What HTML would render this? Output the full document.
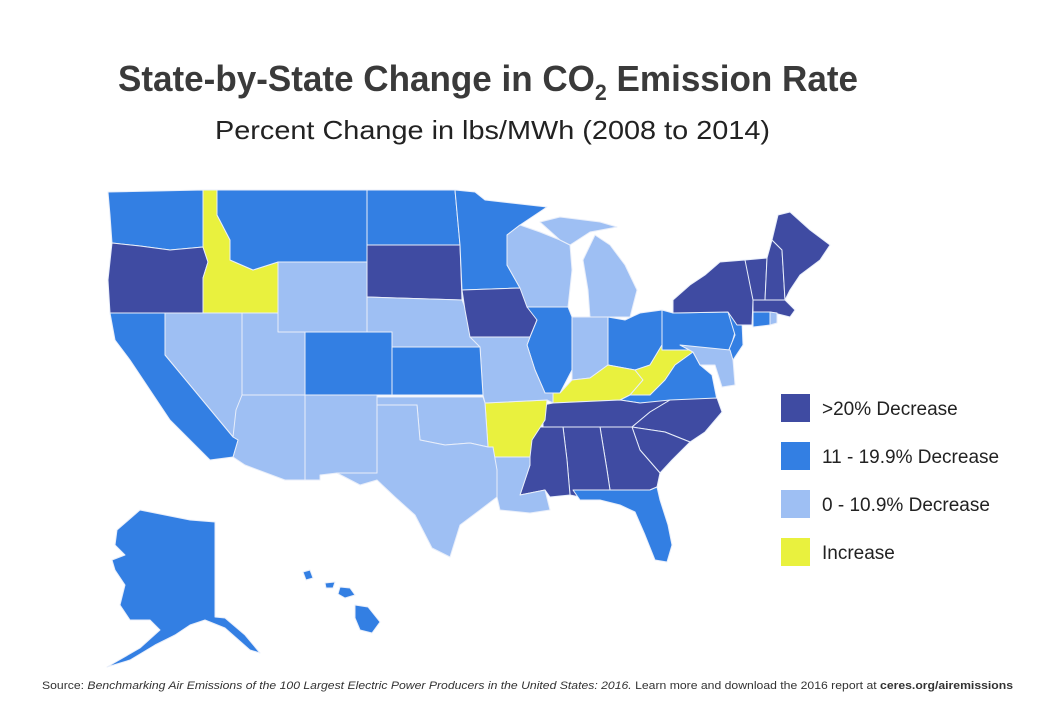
<!DOCTYPE html>
<html><head><meta charset="utf-8"><style>
html,body{margin:0;padding:0;background:#fff;}
svg{display:block;}
</style></head><body>
<svg id="chart" width="1050" height="719" viewBox="0 0 1050 719" xmlns="http://www.w3.org/2000/svg" font-family="'Liberation Sans', sans-serif">
<rect width="1050" height="719" fill="#fff"/>
<text x="118" y="91" font-size="36" font-weight="bold" fill="#3a3a3a" textLength="740" lengthAdjust="spacingAndGlyphs">State-by-State Change in CO<tspan font-size="22" dy="9">2</tspan><tspan dy="-9"> Emission Rate</tspan></text>
<text x="215" y="139" font-size="26" fill="#222" textLength="555" lengthAdjust="spacingAndGlyphs">Percent Change in lbs/MWh (2008 to 2014)</text>
<g id="map"></g>
<g id="legend"></g>
<text x="42" y="689" font-size="11" fill="#333" textLength="971" lengthAdjust="spacingAndGlyphs">Source: <tspan font-style="italic">Benchmarking Air Emissions of the 100 Largest Electric Power Producers in the United States: 2016.</tspan> Learn more and download the 2016 report at <tspan font-weight="bold">ceres.org/airemissions</tspan></text>
</svg>
<script>
// Data: category per state (0 = >20% decrease, 1 = 11-19.9%, 2 = 0-10.9%, 3 = increase)
const categoryLabels = [">20% Decrease", "11 - 19.9% Decrease", "0 - 10.9% Decrease", "Increase"];
const categoryColors = ["#3f4ba2", "#337fe3", "#9ebff3", "#e9f13e"];
const stateNames = ["WA","OR","ID","MT","WY","ND","SD","NE","MN","IA","WI","MI-UP","MI","IL","IN","OH","KY","WV","VA","PA","NJ","MD","NY","VT","NH","ME","MA","CT","RI","TN","NC","SC","GA","AL","MS","FL","LA","AR","MO","KS","OK","TX","NM","AZ","CO","UT","NV","CA","AK","HI1","HI2","HI3","HI4"];
const stateCategory = [1,0,3,1,2,1,0,2,1,0,2,2,2,1,2,1,3,3,1,1,1,2,0,0,0,0,0,1,2,0,0,0,0,0,0,1,2,3,2,1,2,2,2,2,1,2,2,1,1,1,1,1,1];

// Geometry (outline shapes)
const shapes = {
WA:"108,192 203,190 203,247 170,250 140,246 112,243 110,215",
OR:"112,243 140,246 170,250 203,247 208,262 203,278 203,313 110,313 108,280",
ID:"203,190 217,190 217,215 230,240 230,260 253,270 278,262 278,313 203,313 203,278 208,262 203,247",
MT:"217,190 367,190 367,262 278,262 253,270 230,260 230,240 217,215",
WY:"278,262 367,262 367,332 278,332",
ND:"367,190 455,190 460,245 367,245",
SD:"367,245 460,245 462,300 367,297",
NE:"367,297 462,300 470,320 480,347 392,347 392,332 367,332",
MN:"455,190 475,192 485,200 547,207 520,225 507,235 507,265 520,288 462,290 460,245",
IA:"462,290 520,288 532,300 537,320 530,337 470,337 465,310",
WI:"507,235 520,225 540,232 560,240 570,245 572,270 568,307 527,307 520,288 507,265",
"MI-UP":"540,222 560,217 600,222 617,227 590,232 570,245 560,240",
MI:"583,260 595,235 610,245 625,265 637,290 630,317 590,317 588,290",
IL:"527,307 568,307 572,317 572,370 560,393 545,393 535,370 527,345 530,337 537,320",
IN:"572,317 608,317 608,365 590,378 572,380 572,370",
OH:"608,317 625,320 640,313 662,310 662,345 650,365 635,370 608,365",
KY:"553,393 560,393 572,380 590,378 608,365 635,370 643,380 630,395 620,400 553,403",
WV:"643,380 635,370 650,365 662,345 662,350 680,345 693,352 675,365 665,380 650,395 630,395",
VA:"630,395 650,395 665,380 675,365 693,352 700,365 712,375 717,400 640,403 620,400",
PA:"662,310 673,313 728,312 737,325 730,350 662,350",
NJ:"728,312 742,322 743,345 733,360 728,352 735,335",
MD:"680,345 730,350 733,360 735,385 722,387 715,365 700,365 693,352",
NY:"673,313 673,300 690,285 705,275 720,262 745,260 752,262 753,300 752,325 737,325 728,312",
VT:"745,260 767,258 765,300 753,300",
NH:"767,258 772,240 782,250 785,300 765,300",
ME:"772,240 778,215 790,212 810,230 830,245 820,260 800,275 790,290 785,300 782,250",
MA:"753,300 785,300 795,310 790,317 770,312 753,312",
CT:"753,312 770,312 770,325 753,327",
RI:"770,312 777,313 777,323 770,325",
TN:"543,405 553,403 620,400 640,403 670,400 650,412 632,427 543,427",
NC:"670,400 717,398 722,412 705,432 690,442 665,432 632,427 650,412",
SC:"632,427 665,432 690,442 672,460 660,473 640,450",
GA:"600,427 632,427 640,450 660,473 657,487 650,490 610,490 607,470",
AL:"563,427 600,427 607,470 610,490 585,490 580,497 570,495 567,460",
MS:"523,427 563,427 567,460 570,495 550,497 545,490 520,495 530,465 525,450",
FL:"573,490 610,490 650,490 657,487 660,500 668,525 672,545 667,562 655,560 645,535 635,512 620,505 600,500 580,500",
LA:"493,457 530,457 530,465 520,495 545,490 550,510 530,513 500,510 497,497 497,470",
AR:"485,403 547,400 545,420 532,440 530,457 493,457 493,447 488,447",
MO:"470,337 530,337 527,345 535,370 545,393 553,393 553,403 547,400 485,403 483,395 480,347",
KS:"392,347 480,347 483,395 392,395",
OK:"377,397 483,397 485,403 488,447 470,443 445,445 420,440 417,405 377,405",
TX:"377,405 417,405 420,440 445,445 470,443 488,447 493,447 497,470 497,497 480,510 460,525 450,557 432,548 415,515 395,497 377,480 360,485 337,473 377,473",
NM:"305,395 377,395 377,473 337,473 320,475 320,480 305,480",
AZ:"233,395 305,395 305,480 285,480 245,465 233,457 238,440 233,437",
CO:"305,332 392,332 392,395 305,395",
UT:"242,313 278,313 278,332 305,332 305,395 242,395",
NV:"165,313 242,313 242,395 236,410 233,437 165,355",
CA:"110,313 165,313 165,355 233,437 238,440 233,457 210,460 190,440 170,420 150,390 130,360 115,340",
AK:"117,530 140,510 165,515 190,520 215,522 215,617 225,618 245,635 260,653 250,650 225,628 205,620 190,625 175,635 155,645 130,660 107,667 140,648 160,630 150,620 130,620 120,605 125,585 115,570 112,560 125,555 115,545",
HI1:"303,572 310,570 313,578 306,580",
HI2:"325,583 335,582 333,588 326,588",
HI3:"340,587 350,588 355,595 345,598 338,594",
HI4:"355,605 368,607 380,622 372,633 360,630 355,618"
};

const svgNS = "http://www.w3.org/2000/svg";
const map = document.getElementById("map");
stateNames.forEach((s, i) => {
  const p = document.createElementNS(svgNS, "polygon");
  p.setAttribute("points", shapes[s]);
  p.setAttribute("fill", categoryColors[stateCategory[i]]);
  p.setAttribute("stroke", "#e8eefa");
  p.setAttribute("stroke-width", "1");
  p.setAttribute("stroke-linejoin", "round");
  
  
  map.appendChild(p);
});

const legend = document.getElementById("legend");
const legendTop = 394, legendStep = 48;
categoryLabels.forEach((lab, i) => {
  const r = document.createElementNS(svgNS, "rect");
  r.setAttribute("x", 781); r.setAttribute("y", legendTop + i * legendStep);
  r.setAttribute("width", 29); r.setAttribute("height", 28);
  r.setAttribute("fill", categoryColors[i]);
  
  
  legend.appendChild(r);
  const t = document.createElementNS(svgNS, "text");
  t.setAttribute("x", 822); t.setAttribute("y", legendTop + i * legendStep + 21);
  t.setAttribute("font-size", "19"); t.setAttribute("fill", "#222");
  t.textContent = lab;
  
  
  legend.appendChild(t);
});
</script>
</body></html>
